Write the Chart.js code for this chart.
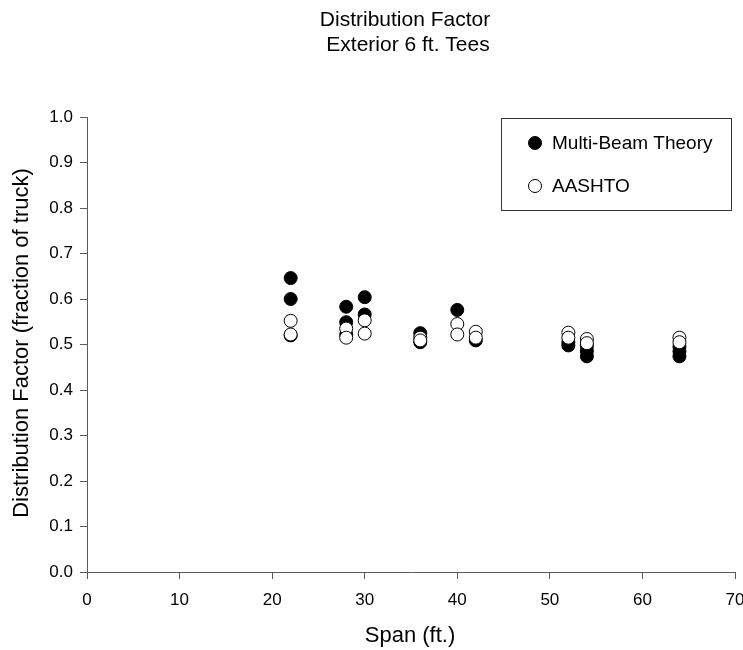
<!DOCTYPE html>
<html>
<head>
<meta charset="utf-8">
<script src="https://cdn.jsdelivr.net/npm/chart.js@4.4.1/dist/chart.umd.min.js"></script>
<style>
  html, body { margin: 0; padding: 0; background: #fff; }
  #wrap { width: 743px; height: 650px; position: relative; }
</style>
</head>
<body>
<div id="wrap"><canvas id="chart"></canvas></div>
<script>
// values
const titleLines = ['Distribution Factor', 'Exterior 6 ft. Tees'];
const xTitle = 'Span (ft.)';
const yTitle = 'Distribution Factor (fraction of truck)';

const beamSpans   = [22, 22, 22, 28, 28, 28, 30, 30, 36, 36, 40, 42, 52, 52, 54, 54, 54, 64, 64, 64];
const beamFactors = [0.646, 0.600, 0.520, 0.583, 0.549, 0.522, 0.604, 0.566, 0.525, 0.505, 0.576, 0.509, 0.505, 0.498, 0.497, 0.486, 0.474, 0.495, 0.485, 0.474];

const aashtoSpans   = [22, 22, 28, 28, 30, 30, 36, 36, 40, 40, 42, 42, 52, 52, 54, 54, 64, 64];
const aashtoFactors = [0.552, 0.522, 0.535, 0.515, 0.553, 0.524, 0.515, 0.509, 0.545, 0.522, 0.528, 0.515, 0.526, 0.515, 0.512, 0.503, 0.515, 0.505];

const xTicks = [0, 10, 20, 30, 40, 50, 60, 70];
const yTicks = [0, 0.1, 0.2, 0.3, 0.4, 0.5, 0.6, 0.7, 0.8, 0.9, 1.0];

const toPoints = (xs, ys) => xs.map((x, i) => ({ x: x, y: ys[i] }));

const FONT = 'Arial, "Liberation Sans", sans-serif';
const AXIS = '#5a5a5a';

// titles, axis labels and the boxed legend
const decorPlugin = {
  id: 'decor',
  afterDraw(chart) {
    const ctx = chart.ctx;
    ctx.save();
    ctx.fillStyle = '#000';
    ctx.textAlign = 'center';
    ctx.textBaseline = 'middle';
    ctx.font = '21px ' + FONT;
    ctx.fillText(titleLines[0], 405, 20);
    ctx.fillText(titleLines[1], 408, 45);

    ctx.font = '22px ' + FONT;
    ctx.fillText(xTitle, 410, 636);
    ctx.save();
    ctx.translate(22, 343);
    ctx.rotate(-Math.PI / 2);
    ctx.fillText(yTitle, 0, 0);
    ctx.restore();

    // legend box
    ctx.strokeStyle = '#333';
    ctx.lineWidth = 1;
    ctx.strokeRect(501.5, 118.5, 230, 92);
    ctx.font = '19px ' + FONT;
    ctx.textAlign = 'left';
    const rows = [chart.data.datasets[1], chart.data.datasets[0]];
    rows.forEach((ds, i) => {
      const cy = 143 + i * 43;
      ctx.beginPath();
      ctx.arc(535, cy, 6.5, 0, Math.PI * 2);
      ctx.fillStyle = ds.backgroundColor;
      ctx.fill();
      ctx.strokeStyle = '#000';
      ctx.stroke();
      ctx.fillStyle = '#000';
      ctx.fillText(ds.label, 552, cy + 1);
    });
    ctx.restore();
  }
};

new Chart(document.getElementById('chart'), {
  type: 'scatter',
  data: {
    datasets: [
      {
        label: 'AASHTO',
        data: toPoints(aashtoSpans, aashtoFactors),
        backgroundColor: '#ffffff',
        borderColor: '#000000',
        borderWidth: 1,
        pointRadius: 6.5,
        order: 0
      },
      {
        label: 'Multi-Beam Theory',
        data: toPoints(beamSpans, beamFactors),
        backgroundColor: '#000000',
        borderColor: '#000000',
        borderWidth: 1,
        pointRadius: 6.5,
        order: 1
      }
    ]
  },
  options: {
    responsive: true,
    maintainAspectRatio: false,
    animation: false,
    layout: { padding: { top: 117, right: 8, left: 0, bottom: 0 } },
    plugins: {
      legend: { display: false },
      title: { display: false },
      tooltip: { enabled: false }
    },
    scales: {
      x: {
        type: 'linear',
        min: 0,
        max: 70,
        afterFit: s => { s.height = 78; s.paddingLeft = 0; s.paddingRight = 0; },
        afterBuildTicks: s => { s.ticks = xTicks.map(v => ({ value: v })); },
        grid: { drawOnChartArea: false, drawTicks: true, tickLength: 7, color: AXIS },
        border: { color: AXIS, width: 1 },
        ticks: { color: '#000', padding: 11, font: { family: FONT, size: 17 }, maxRotation: 0 }
      },
      y: {
        type: 'linear',
        min: 0,
        max: 1,
        afterFit: s => { s.width = 87; s.paddingTop = 0; s.paddingBottom = 0; },
        afterBuildTicks: s => { s.ticks = yTicks.map(v => ({ value: v })); },
        grid: { drawOnChartArea: false, drawTicks: true, tickLength: 7, color: AXIS },
        border: { color: AXIS, width: 1 },
        ticks: {
          color: '#000',
          padding: 7,
          font: { family: FONT, size: 17 },
          callback: v => v.toFixed(1)
        }
      }
    }
  },
  plugins: [decorPlugin]
});
</script>
</body>
</html>
